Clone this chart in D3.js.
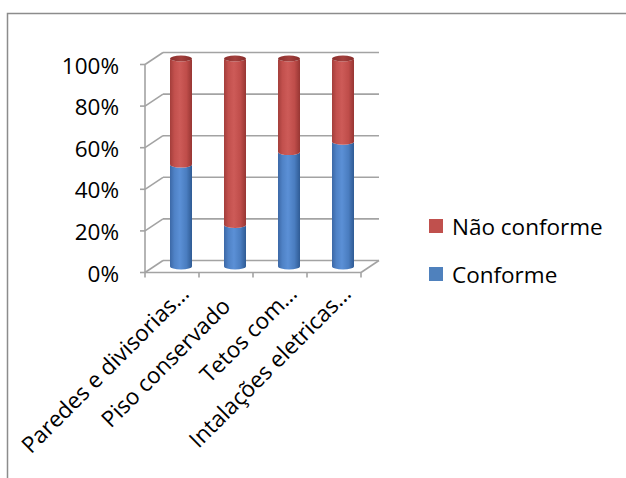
<!DOCTYPE html>
<html>
<head>
<meta charset="utf-8">
<script src="https://cdn.jsdelivr.net/npm/d3@7"></script>
<style>
  html, body { margin: 0; padding: 0; background: #fff; }
  svg { display: block; }
  text { font-family: "Open Sans", "Noto Sans", sans-serif; fill: #000; }
</style>
</head>
<body>
<div id="chart"></div>
<script>
// ---- data ----
const categories = ["Paredes e divisorias…", "Piso conservado", "Tetos com…", "Intalações eletricas…"];
const conforme = [0.49, 0.20, 0.55, 0.60];
const naoConforme = [0.51, 0.80, 0.45, 0.40];
const seriesNames = ["Conforme", "Não conforme"];
const yTicks = [0, 0.2, 0.4, 0.6, 0.8, 1.0];
const tickLabels = ["0%", "20%", "40%", "60%", "80%", "100%"];

// ---- layout ----
const W = 626, H = 478;
const svg = d3.select("#chart").append("svg").attr("width", W).attr("height", H);

const y = d3.scaleLinear().domain([0, 1]).range([272.5, 64.5]);
const x = d3.scaleBand().domain(categories).range([145, 361]);
const DX = 18, DY = -12;        // depth offset of back wall
const gridColor = "#a3a3a3";
const fontSize = 22.5;

// outer border (chart area frame, cut by the page edges)
svg.append("rect").attr("x", 7.5).attr("y", 13.5).attr("width", 700).attr("height", 600)
  .attr("fill", "none").attr("stroke", "#8c8c8c").attr("stroke-width", 1.5);

// gradients
const defs = svg.append("defs");
function grad(id, stops) {
  const g = defs.append("linearGradient").attr("id", id).attr("x1", "0%").attr("x2", "100%").attr("y1", "0%").attr("y2", "0%");
  stops.forEach(s => g.append("stop").attr("offset", s[0]).attr("stop-color", s[1]));
}
grad("gBlue", [["0%", "#3c68a6"], ["20%", "#4f82c6"], ["45%", "#5b90d6"], ["75%", "#4a7dc0"], ["100%", "#2f5b94"]]);
grad("gRed", [["0%", "#a33e3b"], ["20%", "#c2504d"], ["45%", "#cd5b58"], ["75%", "#bf4d4a"], ["100%", "#973633"]]);
grad("gRedTop", [["0%", "#8a2f2d"], ["50%", "#a3403d"], ["100%", "#862d2b"]]);

const [x0, x1] = x.range();
const walls = svg.append("g").attr("stroke", gridColor).attr("stroke-width", 1.6).attr("fill", "none");

// back wall gridlines
walls.selectAll("line.grid").data(yTicks).join("line").attr("class", "grid")
  .attr("x1", x0 + DX).attr("x2", x1 + DX)
  .attr("y1", d => y(d) + DY).attr("y2", d => y(d) + DY);
// side wall diagonals
walls.selectAll("line.diag").data(yTicks).join("line").attr("class", "diag")
  .attr("x1", x0).attr("x2", x0 + DX)
  .attr("y1", d => y(d)).attr("y2", d => y(d) + DY);
// floor right edge
walls.append("line").attr("x1", x1).attr("y1", y(0)).attr("x2", x1 + DX).attr("y2", y(0) + DY);
// front floor edge (category axis)
walls.append("line").attr("x1", x0).attr("y1", y(0)).attr("x2", x1).attr("y2", y(0));
// value axis
walls.append("line").attr("x1", x0).attr("y1", y(0)).attr("x2", x0).attr("y2", y(1));
// value ticks
walls.selectAll("line.yt").data(yTicks).join("line").attr("class", "yt")
  .attr("x1", x0 - 5).attr("x2", x0).attr("y1", d => y(d)).attr("y2", d => y(d));
// category ticks
const bounds = categories.map(c => x(c)).concat([x1]);
walls.selectAll("line.xt").data(bounds).join("line").attr("class", "xt")
  .attr("x1", d => d).attr("x2", d => d).attr("y1", y(0)).attr("y2", y(0) + 5);

// value labels
svg.append("g").selectAll("text").data(yTicks).join("text")
  .attr("x", 119).attr("y", d => y(d) + 9)
  .attr("text-anchor", "end").attr("font-size", fontSize)
  .text((d, i) => tickLabels[i]);

// stacked cylinders
const rows = categories.map((c, i) => ({ cat: c, Conforme: conforme[i], "Não conforme": naoConforme[i] }));
const stacked = d3.stack().keys(seriesNames)(rows);
const fills = { "Conforme": "url(#gBlue)", "Não conforme": "url(#gRed)" };
const rx = 11, ry = 3;
const bars = svg.append("g");
stacked.forEach((layer, li) => {
  layer.forEach((seg, i) => {
    const cx = x(categories[i]) + x.bandwidth() / 2 + DX / 2;
    const yb = y(seg[0]) + DY / 2;
    const yt = y(seg[1]) + DY / 2;
    const p = `M${cx - rx},${yt} A${rx},${ry} 0 0 0 ${cx + rx},${yt} L${cx + rx},${yb} A${rx},${ry} 0 0 1 ${cx - rx},${yb} Z`;
    bars.append("path").attr("d", p).attr("fill", fills[layer.key]);
    if (li === stacked.length - 1) {
      bars.append("ellipse").attr("cx", cx).attr("cy", yt).attr("rx", rx).attr("ry", ry)
        .attr("fill", "url(#gRedTop)");
    }
  });
});

// category labels, rotated -45°
const labelG = svg.append("g");
labelG.selectAll("text").data(categories).join("text")
  .attr("font-size", fontSize).attr("text-anchor", "end")
  .attr("transform", d => {
    const truncated = d.endsWith("…");
    const back = truncated ? 0 : 18;
    const ex = x(d) + x.bandwidth() / 2 + 18.5 - back * Math.SQRT1_2;
    const ey = y(0) + 22.5 + back * Math.SQRT1_2;
    return `translate(${ex},${ey}) rotate(-45)`;
  })
  .text(d => d);

// legend
const legendOrder = ["Não conforme", "Conforme"];
const legColors = { "Não conforme": "#c0504d", "Conforme": "#4f81bd" };
const leg = svg.append("g").selectAll("g").data(legendOrder).join("g")
  .attr("transform", (d, i) => `translate(429,${219 + i * 48})`);
leg.append("rect").attr("width", 14).attr("height", 14).attr("fill", d => legColors[d]);
leg.append("text").attr("x", 23).attr("y", 15.5).attr("font-size", fontSize).text(d => d);
</script>
</body>
</html>
